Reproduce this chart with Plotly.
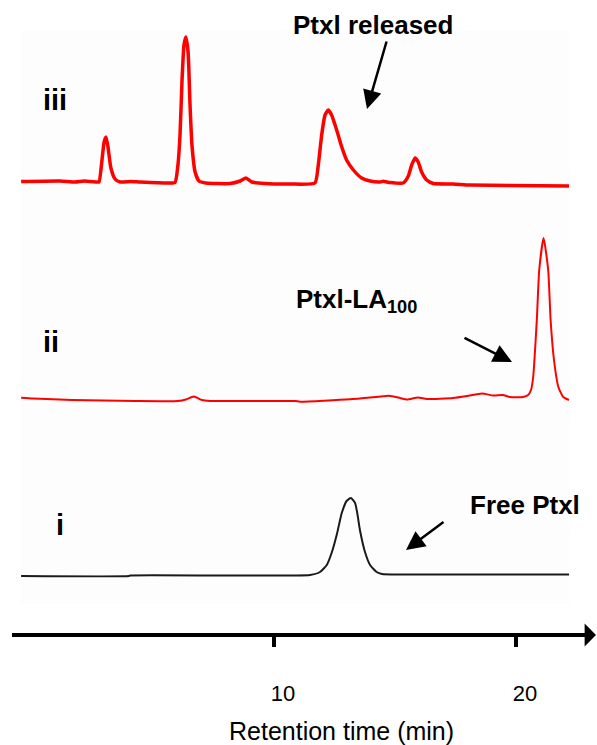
import plotly.graph_objects as go

# ---- data (retention time in min, detector signal in arbitrary units above baseline) ----
t_iii = [-0.45, 1.16, 1.78, 2.15, 2.69, 2.77, 2.87, 2.98, 3.06, 3.14, 3.26, 3.43, 3.64, 4.09, 4.46,
         5.62, 5.91, 6.03, 6.12, 6.20, 6.28, 6.36, 6.45, 6.53, 6.61, 6.74, 6.90, 7.19, 8.18, 8.60,
         8.84, 9.09, 9.63, 10.66, 11.69, 11.83, 11.97, 12.11, 12.24, 12.38, 12.59, 12.80, 13.00,
         13.28, 13.62, 13.97, 14.38, 14.52, 14.79, 15.34, 15.55, 15.69, 15.83, 15.96, 16.10, 16.31,
         16.58, 17.40, 18.10, 19.75, 22.19]
s_iii = [0.5, 1, 0, 1, 0, 0, 17, 40, 45, 35, 14, 3, 0, 0.5, 0,
         -1, -0.5, 17, 49, 102, 137, 145, 130, 77, 37, 10, 1, -1, -1.5, 1,
         4, 0, -1.5, -2, -1, 17, 47, 67, 72, 67, 52, 35, 22,
         12, 4, 1, 0, 0.7, -0.5, -1, 6, 17, 24, 20, 10, 2,
         -1.5, -2, -3, -3.5, -4]

t_ii = [-0.45, 0.04, 1.65, 4.26, 6.03, 6.36, 6.69, 7.02, 7.36, 10.87, 11.07, 13.14, 14.30, 14.75,
        15.21, 15.50, 15.95, 16.32, 17.40, 17.98, 18.60, 19.06, 19.46, 19.75, 20.29, 20.50, 20.62,
        20.71, 20.86, 20.96, 21.14, 21.33, 21.43, 21.57, 21.75, 21.95, 22.19]
s_ii = [0.3, -0.5, -2, -3, -3, -1.5, 1.5, -2, -3, -3, -3.7, -1.3, 1.3, 2.3,
        0, -1.5, 0.5, -1, 0, 2, 4.5, 2.5, 3, 1, 1, 3, 8,
        21, 78, 128, 160, 128, 78, 38, 11, 1, -2]

t_i = [-0.45, 4.01, 4.05, 11.49, 11.90, 12.18, 12.38, 12.59, 12.73, 12.80, 13.00, 13.18, 13.35,
       13.44, 13.55, 13.76, 13.97, 14.24, 14.46, 15.21, 22.19]
s_i = [0, 0, 0.5, 1, 4, 11, 23, 41, 56, 63, 75, 78, 73,
       63, 46, 24, 11, 4, 2, 1.5, 1.5]

tick_vals = [10, 20]
tick_text = ["10", "20"]
trace_labels = ["i", "ii", "iii"]
peak_labels = ["Free Ptxl", "Ptxl-LA<sub>100</sub>", "Ptxl released"]
x_title = "Retention time (min)"

# ---- layout constants ----
W, H = 597, 745
ML, MR, MT, MB = 12, 7, 0, 112
PLOT_H = H - MT - MB
PLOT_W = W - ML - MR
AXIS_PY = 635                 # pixel row of the axis line centre
X0, PXMIN = 32, 24.2          # pixel of t=0, pixels per minute
x_range = [(ML - X0) / PXMIN, (W - MR - X0) / PXMIN]

off_iii, off_ii, off_i = 453, 237, 59   # baselines relative to axis (px units)
FONT = "Arial, Liberation Sans, Helvetica, sans-serif"

def px2t(px):
    return (px - X0) / PXMIN

def py2y(py):
    return AXIS_PY - py

fig = go.Figure()
fig.add_trace(go.Scatter(x=t_iii, y=[v + off_iii for v in s_iii], mode="lines",
                         line=dict(color="#ff0000", width=3.5, shape="spline", smoothing=0.5),
                         hoverinfo="skip"))
fig.add_trace(go.Scatter(x=t_ii, y=[v + off_ii for v in s_ii], mode="lines",
                         line=dict(color="#ff0000", width=2, shape="spline", smoothing=0.5),
                         hoverinfo="skip"))
fig.add_trace(go.Scatter(x=t_i, y=[v + off_i for v in s_i], mode="lines",
                         line=dict(color="#1a1a1a", width=2, shape="spline", smoothing=0.5),
                         hoverinfo="skip"))

ann = []
bold = dict(family=FONT, size=26, color="black")
bold_num = dict(family=FONT, size=29, color="black")
for lab, (px, py) in zip(trace_labels, [(54, 525), (41, 342), (41, 100)]):
    ann.append(dict(x=px2t(px), y=py2y(py), xref="x", yref="y", text="<b>%s</b>" % lab,
                    showarrow=False, xanchor="left", yanchor="middle", font=bold_num))
for lab, (px, py) in zip(peak_labels, [(468, 505), (294, 300), (291, 25)]):
    ann.append(dict(x=px2t(px), y=py2y(py), xref="x", yref="y", text="<b>%s</b>" % lab,
                    showarrow=False, xanchor="left", yanchor="middle", font=bold))
for (tx, ty), (sx, sy) in [((406, 550), (445, 521)), ((512, 362), (463, 337)), ((367, 109), (387, 40))]:
    ann.append(dict(x=px2t(tx), y=py2y(ty), xref="x", yref="y", text="", showarrow=True,
                    ax=sx - tx, ay=sy - ty, arrowhead=2, arrowsize=1.5, arrowwidth=2.5,
                    arrowcolor="black", standoff=0))
# axis arrowhead (paper coordinates so it is not hidden beyond the axis range)
ann.append(dict(x=(597 - ML) / PLOT_W, y=(PLOT_H - (AXIS_PY - MT)) / PLOT_H, xref="paper", yref="paper",
                text="", showarrow=True, ax=-14, ay=0, arrowhead=1, arrowsize=0.95, arrowwidth=4,
                arrowcolor="black", standoff=0))
# axis title
ann.append(dict(x=px2t(341), y=-(731 - PLOT_H) / PLOT_H, xref="x", yref="paper", text=x_title,
                showarrow=False, xanchor="center", yanchor="middle",
                font=dict(family=FONT, size=25, color="black")))

fig.update_layout(
    width=W, height=H, margin=dict(l=ML, r=MR, t=MT, b=MB, autoexpand=False),
    paper_bgcolor="white", plot_bgcolor="white", showlegend=False,
    annotations=ann,
    shapes=[dict(type="rect", xref="x", yref="y", x0=px2t(21), x1=px2t(570),
                 y0=py2y(604), y1=py2y(30), fillcolor="#fdfdfd", line=dict(width=0), layer="below")],
    xaxis=dict(range=x_range, showline=True, linewidth=4, linecolor="black",
               ticks="outside", ticklen=10, tickwidth=4, tickcolor="black",
               tickvals=tick_vals, ticktext=tick_text, ticklabelshift=9, ticklabelstandoff=28,
               tickfont=dict(family=FONT, size=22, color="black"),
               showgrid=False, zeroline=False, fixedrange=True),
    yaxis=dict(range=[AXIS_PY - PLOT_H, AXIS_PY], visible=False, fixedrange=True),
)
fig.write_html("out.html", config={"displayModeBar": False},
               post_script="document.body.style.margin='0';document.body.style.padding='0';")
